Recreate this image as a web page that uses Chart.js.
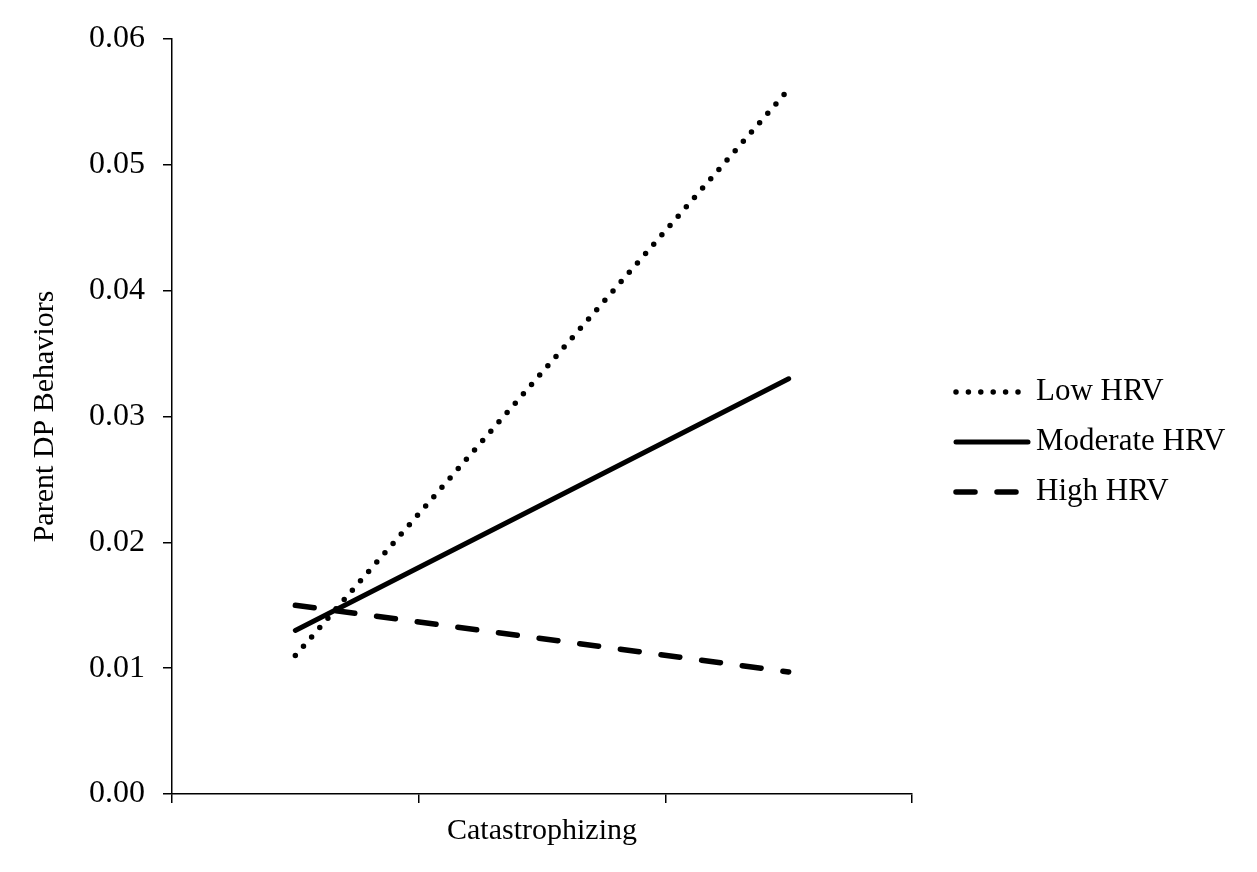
<!DOCTYPE html>
<html>
<head>
<meta charset="utf-8">
<script src="https://cdn.jsdelivr.net/npm/chart.js@4/dist/chart.umd.min.js"></script>
<style>
  html, body { margin: 0; padding: 0; background: #fff; }
  #wrap { width: 1257px; height: 872px; }
</style>
</head>
<body>
<div id="wrap"><canvas id="chart"></canvas></div>
<script>
// values
const xPoints = [0.5, 2.5];
const lowHRV = [0.011, 0.056];
const moderateHRV = [0.013, 0.033];
const highHRV = [0.015, 0.0097];
const seriesNames = ['Low HRV', 'Moderate HRV', 'High HRV'];
const yTicks = [0, 0.01, 0.02, 0.03, 0.04, 0.05, 0.06];

const serif = "'Liberation Serif', 'Times New Roman', serif";

function pairs(ys) {
  return ys.map((y, i) => ({ x: xPoints[i], y: y }));
}

// legend drawn by hand so it sits where the original one does
const sideLegend = {
  id: 'sideLegend',
  afterDraw(chart) {
    const ctx = chart.ctx;
    const rows = [392, 442, 492];
    chart.data.datasets.forEach((ds, i) => {
      const y = rows[i];
      ctx.save();
      ctx.strokeStyle = ds.borderColor;
      ctx.lineWidth = ds.borderWidth;
      ctx.lineCap = ds.borderCapStyle || 'butt';
      ctx.setLineDash(ds.borderDash || []);
      ctx.beginPath();
      ctx.moveTo(956, y);
      ctx.lineTo(1028, y);
      ctx.stroke();
      ctx.restore();

      ctx.save();
      ctx.fillStyle = '#000';
      ctx.font = '31px ' + serif;
      ctx.textBaseline = 'middle';
      ctx.textAlign = 'left';
      ctx.fillText(ds.label, 1036, y);
      ctx.restore();
    });
  }
};

new Chart(document.getElementById('chart'), {
  type: 'line',
  data: {
    datasets: [
      {
        label: seriesNames[0],
        data: pairs(lowHRV),
        borderColor: '#000',
        borderWidth: 5.5,
        borderDash: [0, 12.4],
        borderCapStyle: 'round',
        pointRadius: 0
      },
      {
        label: seriesNames[1],
        data: pairs(moderateHRV),
        borderColor: '#000',
        borderWidth: 5,
        borderCapStyle: 'round',
        pointRadius: 0
      },
      {
        label: seriesNames[2],
        data: pairs(highHRV),
        borderColor: '#000',
        borderWidth: 5.5,
        borderDash: [19, 22],
        borderCapStyle: 'round',
        pointRadius: 0
      }
    ]
  },
  options: {
    responsive: true,
    maintainAspectRatio: false,
    animation: false,
    layout: { padding: { top: 39, right: 345, left: 0, bottom: 0 } },
    plugins: {
      legend: { display: false },
      tooltip: { enabled: false }
    },
    scales: {
      x: {
        type: 'linear',
        min: 0,
        max: 3,
        ticks: { stepSize: 1, display: false },
        grid: { drawOnChartArea: false, drawTicks: true, tickLength: 9, color: '#000', lineWidth: 1.5 },
        border: { display: true, color: '#000', width: 1.5 },
        title: {
          display: true,
          text: 'Catastrophizing',
          color: '#000',
          font: { family: serif, size: 30 },
          padding: { top: 0, bottom: 23 }
        },
        afterFit(scale) { scale.height = 78; }
      },
      y: {
        min: 0,
        max: 0.06,
        afterBuildTicks(scale) { scale.ticks = yTicks.map(v => ({ value: v })); },
        ticks: {
          color: '#000',
          padding: 18,
          font: { family: serif, size: 32 },
          callback: v => v.toFixed(2)
        },
        grid: { drawOnChartArea: false, drawTicks: true, tickLength: 9, color: '#000', lineWidth: 1.5 },
        border: { display: true, color: '#000', width: 1.5 },
        title: {
          display: true,
          text: 'Parent DP Behaviors',
          color: '#000',
          font: { family: serif, size: 30 },
          padding: { top: 27, bottom: 0 }
        },
        afterFit(scale) { scale.width = 172; }
      }
    }
  },
  plugins: [sideLegend]
});
</script>
</body>
</html>
